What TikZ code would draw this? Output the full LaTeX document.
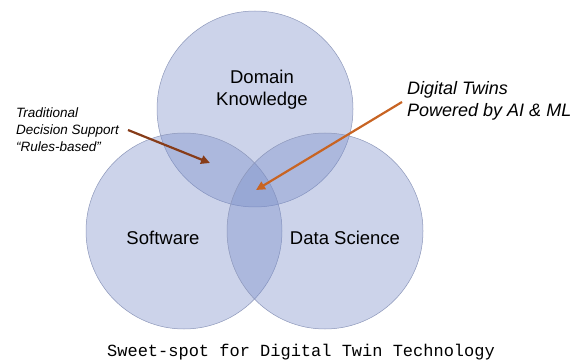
\documentclass[tikz,border=0pt]{standalone}
\usepackage{fontspec}
\setmainfont{Liberation Sans}
\newfontfamily\capfont{Liberation Mono}
\usetikzlibrary{arrows.meta}
\definecolor{vennfill}{RGB}{120,140,200}
\definecolor{vennline}{RGB}{140,150,185}
\definecolor{darkarrow}{RGB}{135,60,25}
\definecolor{orangearrow}{RGB}{200,100,35}
\tikzset{
  venn/.style={circle, draw=vennline, line width=0.5pt, fill=vennfill, fill opacity=0.38, minimum size=196pt, inner sep=0pt},
  biglabel/.style={font=\fontsize{18.5}{22}\selectfont, align=center, inner sep=0pt},
  note/.style={font=\fontsize{13.5}{17}\selectfont\itshape, align=left, inner sep=0pt},
  bignote/.style={font=\fontsize{18}{21.5}\selectfont\itshape, align=left, inner sep=0pt},
  arr/.style={line width=2.2pt, -{Triangle[length=9pt,width=8.5pt]}},
}
\begin{document}
\begin{tikzpicture}[x=1pt,y=-1pt]
\useasboundingbox (0,0) rectangle (580,363);
\node[venn] (dk) at (255,109) {};
\node[venn] (sw) at (184,231) {};
\node[venn] (ds) at (325,231) {};
\node[biglabel] (dkl) at (262,90) {Domain\\Knowledge};
\node[biglabel] (swl) at (163,238) {Software};
\node[biglabel] (dsl) at (345,238) {Data Science};
\node[note, anchor=west] (tds) at (16,130) {Traditional\\Decision Support\\“Rules-based”};
\node[bignote, anchor=west] (dtw) at (407,101) {Digital Twins\\Powered by AI \& ML};
\coordinate (a1s) at (128,130);
\coordinate (a1e) at (210,163);
\coordinate (a2s) at (402,102);
\coordinate (a2e) at (256,190);
\draw[arr, draw=darkarrow, fill=darkarrow] (a1s) -- (a1e);
\draw[arr, draw=orangearrow, fill=orangearrow] (a2s) -- (a2e);
\node[font=\capfont\fontsize{17}{20}\selectfont, inner sep=0pt] (cap) at (301,352) {Sweet-spot for Digital Twin Technology};
\end{tikzpicture}
\end{document}
